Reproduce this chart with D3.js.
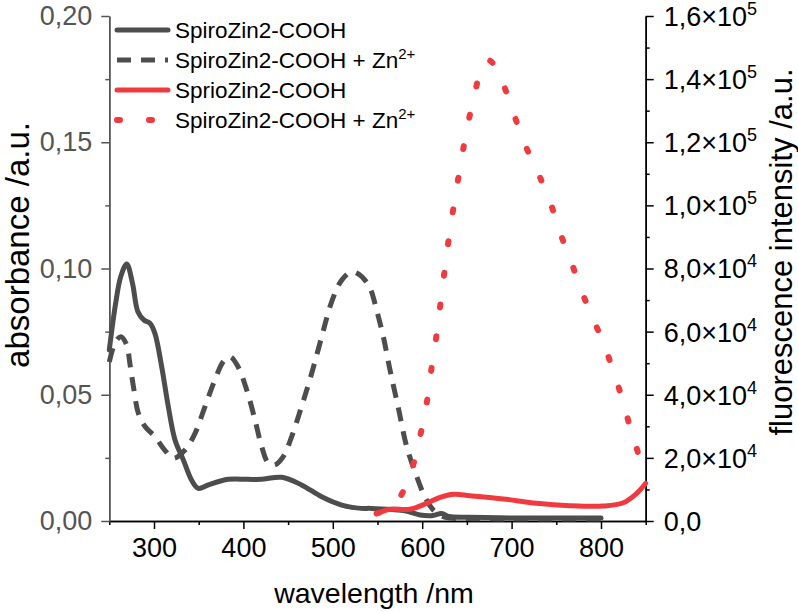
<!DOCTYPE html>
<html>
<head>
<meta charset="utf-8">
<script src="https://cdnjs.cloudflare.com/ajax/libs/d3/7.8.5/d3.min.js"></script>
<style>
body { margin: 0; background: #fff; }
text { font-family: "Liberation Sans", Arial, sans-serif; }
</style>
</head>
<body>
<svg id="chart" width="798" height="612"></svg>
<script>
// absorbance, SpiroZin2-COOH
var absWl  = [250, 257, 263, 269.5, 276, 282, 289, 295.5, 301, 308.6, 316, 323.5, 332.8, 342, 349.6, 360.8, 383, 405, 420, 443, 465, 487.6, 510, 532, 542, 579, 597.6, 612, 621.8, 630, 653.5, 700, 750, 800];
var absVal = [0.0677, 0.086, 0.097, 0.1018, 0.094, 0.0829, 0.0795, 0.0783, 0.0743, 0.0611, 0.0453, 0.0321, 0.0242, 0.0162, 0.0129, 0.0143, 0.0165, 0.0165, 0.0165, 0.0173, 0.0143, 0.0096, 0.0063, 0.005, 0.005, 0.0041, 0.0024, 0.0022, 0.003, 0.0018, 0.0015, 0.0012, 0.0012, 0.0012];

// absorbance, SpiroZin2-COOH + Zn2+
var znWl  = [250, 257, 263, 269.5, 273, 277, 282.5, 290, 301, 312, 321.6, 334.7, 345.9, 357, 368, 377.5, 385, 394, 403.7, 413, 420.5, 427.9, 435, 444.6, 454, 465, 476.4, 487.6, 498.8, 510, 521, 530, 536, 542, 549, 556.5, 564, 573, 582.7, 594, 603, 612.4, 625, 650, 700, 750, 800];
var znVal = [0.063, 0.071, 0.073, 0.0697, 0.0624, 0.0532, 0.0427, 0.0374, 0.0334, 0.0281, 0.0248, 0.0281, 0.0347, 0.0453, 0.0558, 0.0631, 0.0651, 0.0611, 0.0519, 0.04, 0.0294, 0.0229, 0.0222, 0.0255, 0.0334, 0.0453, 0.0585, 0.073, 0.0869, 0.0954, 0.0987, 0.0975, 0.0954, 0.092, 0.0836, 0.073, 0.0598, 0.0453, 0.0294, 0.0175, 0.0096, 0.0044, 0.0015, 0.001, 0.0008, 0.0008, 0.0008];

// fluorescence, SprioZin2-COOH
var flWl  = [549, 564, 586, 605, 620, 635, 653.5, 690.7, 728, 765, 802.6, 825, 840, 850];
var flVal = [2300, 3700, 3700, 5600, 7500, 8460, 8000, 6970, 5600, 4850, 4750, 5800, 8780, 11950];

// fluorescence, SpiroZin2-COOH + Zn2+
var flZnWl  = [549, 562, 575, 589, 598, 605, 610, 615.4, 620, 624.4, 630, 640, 650, 660, 667, 674, 682, 690, 700, 710, 720, 731.6, 744.9, 756, 766, 776.5, 787.7, 799.7, 811, 822.4, 832.4, 836, 845.6, 850];
var flZnVal = [2400, 3800, 7500, 17000, 27250, 37300, 47500, 57700, 67900, 77900, 90000, 108000, 124000, 137000, 144000, 146000, 144000, 139000, 131000, 123000, 116000, 109000, 99600, 90000, 82700, 74200, 66300, 58400, 49900, 39900, 29900, 26700, 17700, 14000];

var xTicks = [300, 400, 500, 600, 700, 800];
var xMinor = [250, 350, 450, 550, 650, 750, 850];
var absTicks = [0, 0.05, 0.10, 0.15, 0.20];
var absMinor = [0.025, 0.075, 0.125, 0.175];
var flTicks = [0, 20000, 40000, 60000, 80000, 100000, 120000, 140000, 160000];
var flMinor = [10000, 30000, 50000, 70000, 90000, 110000, 130000, 150000];

var legendNames = ["SpiroZin2-COOH", "SpiroZin2-COOH + Zn", "SprioZin2-COOH", "SpiroZin2-COOH + Zn"];

var gray = "#4d4d4d", red = "#ef3b40";

var svg = d3.select("#chart");
var mLeft = 109.3, mRight = 645.7, mTop = 16, mBottom = 521;

var x = d3.scaleLinear().domain([250, 850]).range([mLeft, mRight]);
var yAbs = d3.scaleLinear().domain([0, 0.2]).range([mBottom, mTop]);
var yFl = d3.scaleLinear().domain([0, 160000]).range([mBottom, mTop]);

function comma(s) { return s.replace(".", ","); }

// axes
var gx = svg.append("g").attr("transform", "translate(0," + mBottom + ")")
    .call(d3.axisBottom(x).tickValues(xTicks).tickSize(8).tickSizeOuter(0).tickPadding(9));
svg.append("g").attr("transform", "translate(0," + mBottom + ")")
    .call(d3.axisBottom(x).tickValues(xMinor).tickSize(4).tickSizeOuter(0).tickFormat(""));
gx.selectAll("text").attr("font-size", "27px").attr("fill", "#000");

var gl = svg.append("g").attr("class", "lax").attr("transform", "translate(" + mLeft + ",0)")
    .call(d3.axisLeft(yAbs).tickValues(absTicks).tickSize(8).tickSizeOuter(0).tickPadding(9)
        .tickFormat(function(d) { return comma(d3.format(".2f")(d)); }));
svg.append("g").attr("class", "lax").attr("transform", "translate(" + mLeft + ",0)")
    .call(d3.axisLeft(yAbs).tickValues(absMinor).tickSize(4).tickSizeOuter(0).tickFormat(""));
gl.selectAll("text").attr("font-size", "27px").attr("fill", "#555");

var gr = svg.append("g").attr("transform", "translate(" + mRight + ",0)")
    .call(d3.axisRight(yFl).tickValues(flTicks).tickSize(8).tickSizeOuter(0).tickFormat(""));
svg.append("g").attr("transform", "translate(" + mRight + ",0)")
    .call(d3.axisRight(yFl).tickValues(flMinor).tickSize(4).tickSizeOuter(0).tickFormat(""));

// right tick labels with ×10^n
gr.selectAll(".tick text").remove();
gr.selectAll(".tick").append("text")
    .attr("x", 18).attr("dy", "0.35em").attr("fill", "#000")
    .attr("font-size", "27px").attr("text-anchor", "start")
    .each(function(d) {
        var t = d3.select(this);
        if (d == 0) { t.text("0,0"); return; }
        var e = Math.floor(Math.log10(d));
        var m = d / Math.pow(10, e);
        t.append("tspan").text(comma(d3.format(".1f")(m)) + "×10");
        t.append("tspan").attr("font-size", "18px").attr("dy", "-11").text(e);
    });

svg.selectAll(".domain, .tick line").attr("stroke-width", 1.5);
svg.selectAll(".lax .domain, .lax line").attr("stroke", "#555");

// axis titles
svg.append("text").attr("x", 374).attr("y", 603).attr("text-anchor", "middle")
    .attr("font-size", "28.5px").text("wavelength /nm");
svg.append("text").attr("transform", "translate(29,245) rotate(-90)").attr("text-anchor", "middle")
    .attr("font-size", "33px").text("absorbance /a.u.");
svg.append("text").attr("transform", "translate(792,252) rotate(-90)").attr("text-anchor", "middle")
    .attr("font-size", "31px").text("fluorescence intensity /a.u.");

// curves
function line(yScale) {
    return d3.line().x(function(d) { return x(d[0]); }).y(function(d) { return yScale(d[1]); })
        .curve(d3.curveCatmullRom.alpha(0.5));
}
var series = [
    { wl: absWl, v: absVal, y: yAbs, color: gray, dash: null, cap: "round", w: 5 },
    { wl: znWl, v: znVal, y: yAbs, color: gray, dash: "14,10", cap: "butt", w: 5 },
    { wl: flWl, v: flVal, y: yFl, color: red, dash: null, cap: "round", w: 5 },
    { wl: flZnWl, v: flZnVal, y: yFl, color: red, dash: "3,29", cap: "round", w: 6 }
];
series.forEach(function(s) {
    var pts = s.wl.map(function(w, i) { return [w, s.v[i]]; });
    svg.append("path").datum(pts)
        .attr("d", line(s.y))
        .attr("fill", "none")
        .attr("stroke", s.color)
        .attr("stroke-width", s.w)
        .attr("stroke-linecap", s.cap)
        .attr("stroke-dasharray", s.dash);
});

// legend
var leg = svg.append("g");
legendNames.forEach(function(name, i) {
    var s = series[i];
    var ly = 30 + i * 30;
    leg.append("line").attr("x1", 117).attr("x2", 168).attr("y1", ly).attr("y2", ly)
        .attr("stroke", s.color).attr("stroke-width", s.w)
        .attr("stroke-linecap", s.cap).attr("stroke-dasharray", s.dash);
    var t = leg.append("text").attr("x", 175).attr("y", ly).attr("dy", "0.35em")
        .attr("font-size", "22.5px").attr("fill", "#000");
    t.append("tspan").text(name);
    if (i % 2 == 1) t.append("tspan").attr("font-size", "15px").attr("dy", "-9").text("2+");
});
</script>
</body>
</html>
